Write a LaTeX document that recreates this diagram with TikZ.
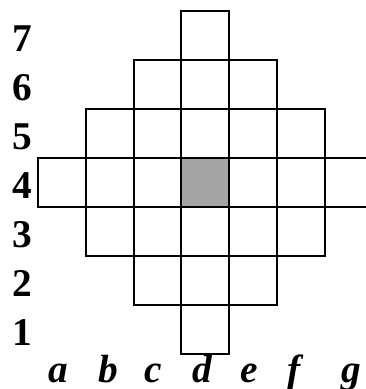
\documentclass[tikz,border=0pt]{standalone}
\usepackage{fontspec}
\setmainfont{Liberation Serif}
\usetikzlibrary{positioning}
\definecolor{boardgrey}{HTML}{A5A5A5}

\begin{document}
\begin{tikzpicture}[
  x=0.75pt,y=-0.75pt,
  cell/.style={draw=black,line width=1.5pt},
  centre/.style={cell,fill=boardgrey},
  rowlbl/.style={anchor=base,font=\fontsize{29.5}{30}\selectfont\bfseries,inner sep=0pt},
  collbl/.style={anchor=base,font=\fontsize{29.5}{30}\selectfont\bfseries\itshape,inner sep=0pt}
]
\useasboundingbox (0,0) rectangle (366,389);
\clip (0,0) rectangle (366,389);
% rows of the board: row / first column / last column
\foreach \r/\lo/\hi in {7/3/3,6/2/4,5/1/5,4/0/6,3/1/5,2/2/4,1/3/3}
  \foreach \c in {\lo,...,\hi}
    \draw[cell] ({38+47.8*\c},{11+49*(7-\r)}) rectangle ++(47.8,49);
\draw[centre] ({38+47.8*3},{11+49*3}) rectangle ++(47.8,49);
% labels
\foreach \r in {1,...,7}
  \node[rowlbl] (r\r) at (22,{11+49*(8-\r)-9}) {\r};
\foreach \l/\x in {a/58,b/108,c/153,d/202,e/249,f/294,g/351}
  \node[collbl] (c\l) at (\x,382) {\l};
\end{tikzpicture}
\end{document}
